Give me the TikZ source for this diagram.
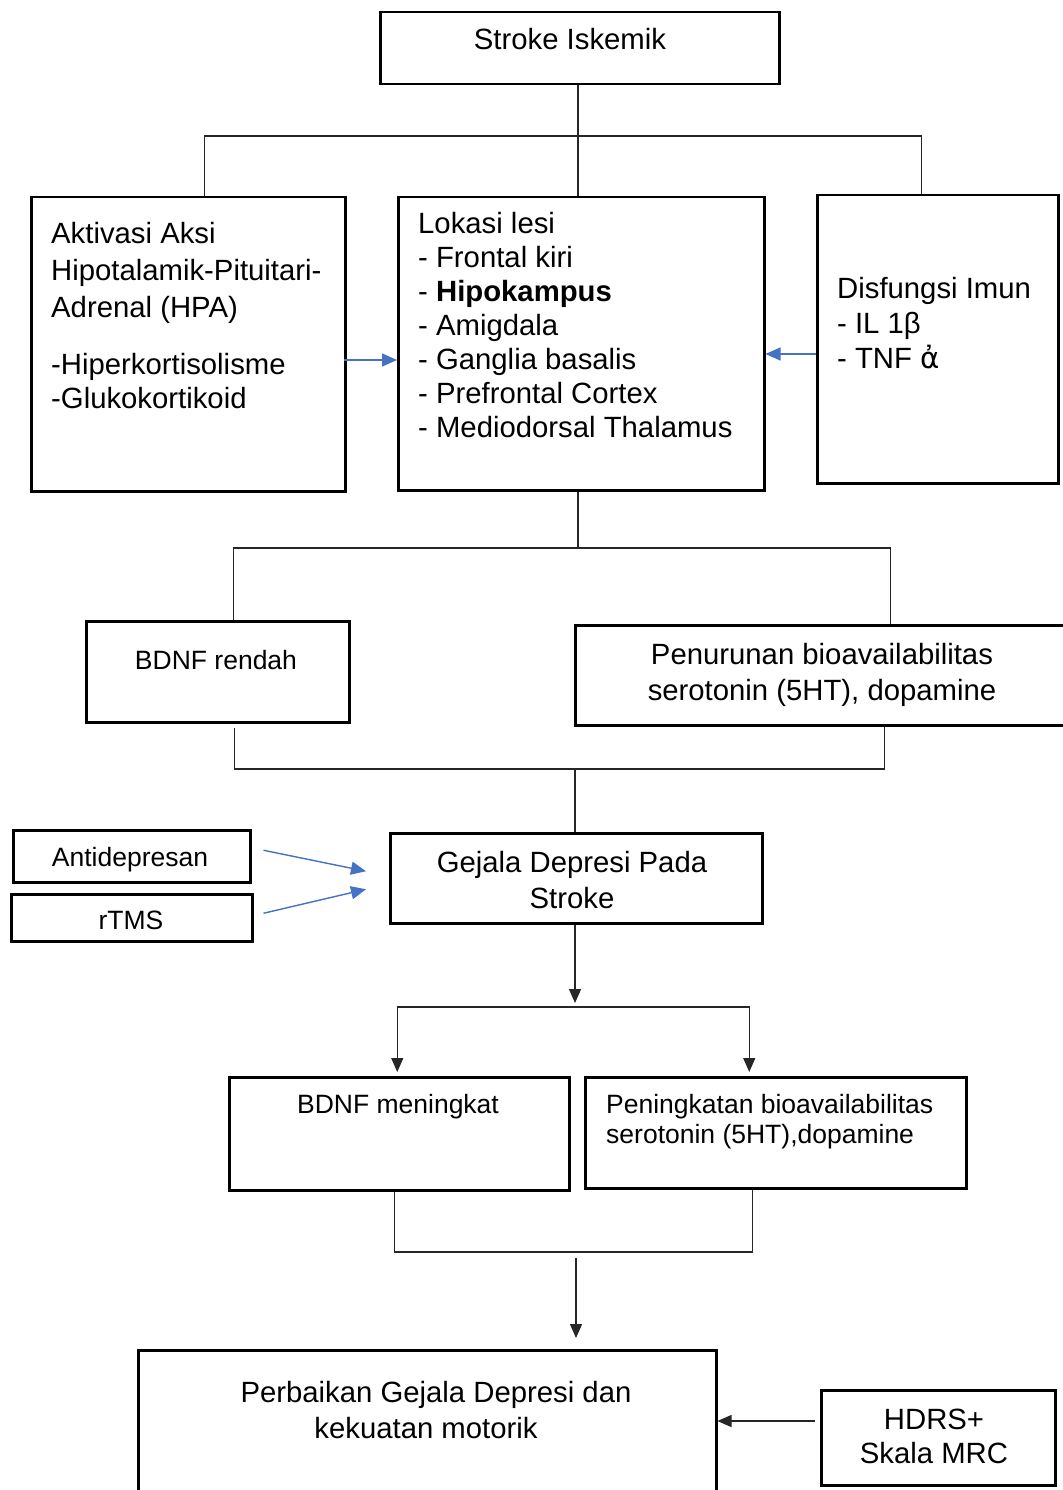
\documentclass[tikz,border=0pt]{standalone}
\usepackage{fontspec}
\setmainfont{Liberation Sans}
\newfontfamily\dejavu{DejaVu Sans}
\usetikzlibrary{arrows.meta}
\definecolor{bluec}{HTML}{4472C4}
\newcommand\fA{\fontsize{29.3}{34}\selectfont}
\newcommand\fB{\fontsize{26.5}{30}\selectfont}
\tikzset{
 box/.style={draw=black, line width=2.5pt, inner sep=0pt, anchor=north west},
 txt/.style={inner sep=0pt, font=\fA},
 conn/.style={draw=black!85, line width=1.3pt},
 arr/.style={conn, -{Triangle[length=14pt,width=12pt]}},
 barr/.style={draw=bluec, fill=bluec, line width=1.4pt, -{Triangle[length=15pt,width=13pt]}},
}
\begin{document}
\begin{tikzpicture}[x=1pt,y=-1pt]
\fill[white] (0,0) rectangle (1062,1490);
\useasboundingbox (0,0) rectangle (1062,1490);

% boxes
\node[box, minimum width=399pt, minimum height=72pt] (stroke) at (379,11) {};
\node[box, minimum width=314pt, minimum height=294pt] (hpa) at (30,196) {};
\node[box, minimum width=366pt, minimum height=293pt] (lok) at (397,196) {};
\node[box, minimum width=241pt, minimum height=288pt] (imun) at (816,194) {};
\node[box, minimum width=263pt, minimum height=101pt] (bdnfr) at (85,620) {};
\node[box, minimum width=520pt, minimum height=100pt] (pen) at (574,624) {};
\node[box, minimum width=372pt, minimum height=90pt] (gej) at (389,832) {};
\node[box, minimum width=237pt, minimum height=52pt] (anti) at (12,829) {};
\node[box, minimum width=241pt, minimum height=47pt] (rtms) at (10,893) {};
\node[box, minimum width=340pt, minimum height=113pt] (bdnfm) at (228,1076) {};
\node[box, minimum width=381pt, minimum height=111pt] (pening) at (584,1076) {};
\node[box, minimum width=578pt, minimum height=180pt] (perb) at (137,1349) {};
\node[box, minimum width=234pt, minimum height=95pt] (hdrs) at (820,1389) {};

% texts
\node[txt, anchor=base] (t-stroke) at (570,50) {Stroke Iskemik};
\node[txt, anchor=north west, align=left] (t-hpa) at (51,222)
 {Aktivasi Aksi\\[3pt]Hipotalamik-Pituitari-\\[3pt]Adrenal (HPA)\\[23pt]-Hiperkortisolisme\\-Glukokortikoid};
\node[txt, anchor=north west, align=left] (t-lok) at (418,212)
 {Lokasi lesi\\- Frontal kiri\\- \textbf{Hipokampus}\\- Amigdala\\- Ganglia basalis\\- Prefrontal Cortex\\- Mediodorsal Thalamus};
\node[txt, anchor=north west, align=left, font=\fontsize{29.3}{35}\selectfont] (t-imun) at (837,277)
 {Disfungsi Imun\\- IL 1β\\- TNF {\dejavu ἀ}};
\node[txt, font=\fB, anchor=base] (t-bdnfr) at (216,669.5) {BDNF rendah};
\node[txt, anchor=north, align=center, font=\fontsize{29.3}{36}\selectfont] (t-pen) at (822,643.5)
 {Penurunan bioavailabilitas\\serotonin (5HT), dopamine};
\node[txt, anchor=north, align=center, font=\fontsize{29.3}{36}\selectfont] (t-gej) at (572,851)
 {Gejala Depresi Pada\\Stroke};
\node[txt, font=\fB, anchor=base] (t-anti) at (130,866) {Antidepresan};
\node[txt, font=\fB, anchor=base] (t-rtms) at (131,929) {rTMS};
\node[txt, font=\fB, anchor=base] (t-bdnfm) at (398,1113.5) {BDNF meningkat};
\node[txt, anchor=north west, align=left, font=\fB] (t-pening) at (606,1094.5)
 {Peningkatan bioavailabilitas\\serotonin (5HT),dopamine};
\node[txt, anchor=north, align=center, font=\fontsize{29.3}{36}\selectfont] (t-perb) at (436,1381)
 {Perbaikan Gejala Depresi dan\\\hspace*{-20pt}kekuatan motorik};
\node[txt, anchor=north, align=center] (t-hdrs) at (934,1409)
 {HDRS+\\Skala MRC};

% junctions
\coordinate (j1) at (578,136);
\coordinate (j2) at (578,548);
\coordinate (j3) at (575,769);
\coordinate (j4) at (575,1007);
\coordinate (j5) at (576,1252);
\coordinate (b1) at (344,360);
\coordinate (b2) at (816,354);
\coordinate (h1) at (815,1421);

% connectors
\draw[conn] (stroke.south -| j1) -- (lok.north -| j1);
\draw[conn] ([xshift=16pt]hpa.north) |- (j1) -| ([xshift=-16.5pt]imun.north);
\draw[barr] (b1) -- (b1 -| lok.west);
\draw[barr] (b2) -- (b2 -| lok.east);

\draw[conn] (lok.south -| j2) -- (j2);
\draw[conn] ([xshift=15.5pt]bdnfr.north) |- (j2) -| ([xshift=55pt]pen.north);

\draw[conn] ([xshift=16.5pt,yshift=-4pt]bdnfr.south) |- (j3) -| ([xshift=49pt]pen.south);
\draw[conn] (j3) -- (gej.north -| j3);

\draw[barr] ([xshift=12pt,yshift=6pt]anti.east) -- ([xshift=-23pt,yshift=7pt]gej.west);
\draw[barr] ([xshift=10pt,yshift=4.5pt]rtms.east) -- ([xshift=-23pt,yshift=-11pt]gej.west);

\draw[arr] (gej.south -| j4) -- ([yshift=4pt]j4);
\draw[arr] (j4) -| ([xshift=-2pt,yshift=4pt]bdnfm.north);
\draw[arr] (j4) -| ([xshift=-26.5pt,yshift=4pt]pening.north);

\draw[conn] ([xshift=-5pt]bdnfm.south) |- (j5) -| ([xshift=-23.5pt]pening.south);
\draw[arr] ([yshift=-6pt]j5) -- ([yshift=11pt]perb.north -| j5);

\draw[arr] (h1) -- (h1 -| perb.east);
\end{tikzpicture}
\end{document}
